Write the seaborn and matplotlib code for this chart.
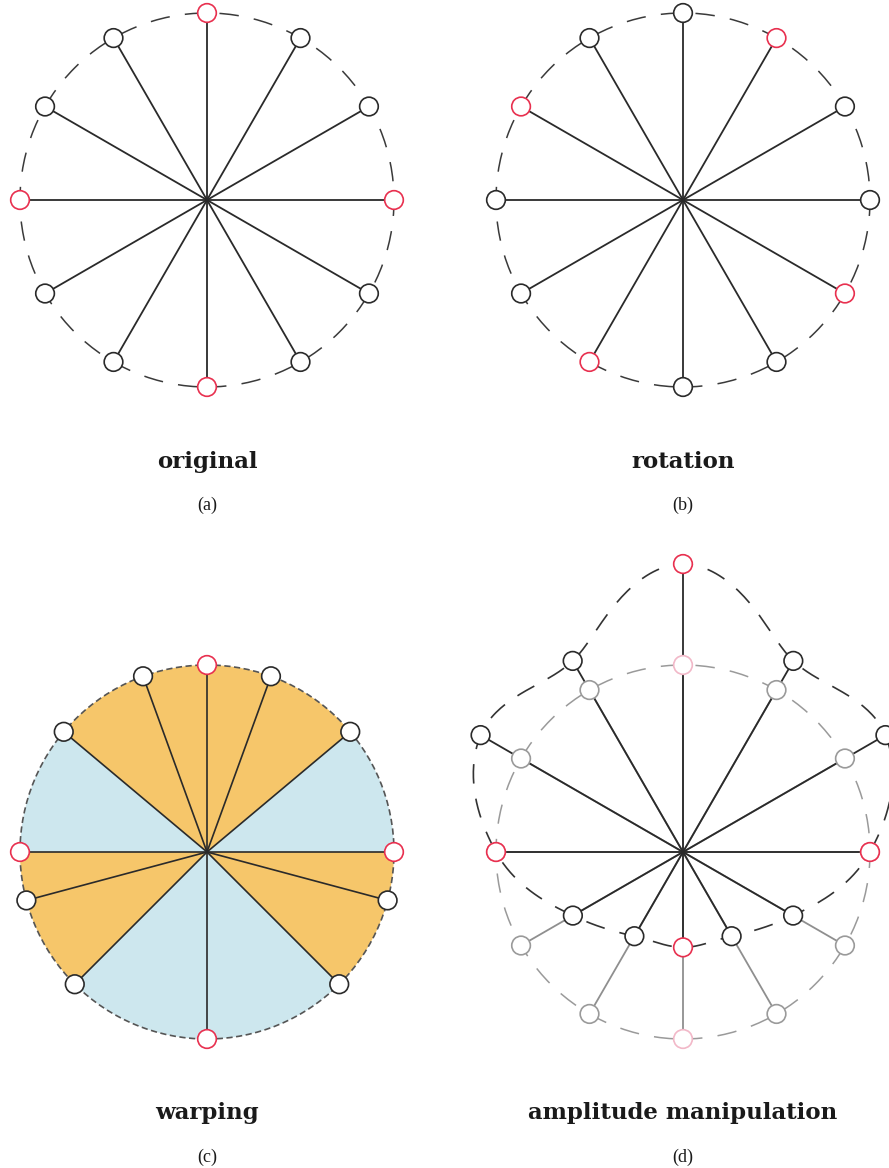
import numpy as np
import matplotlib
matplotlib.use("Agg")
import matplotlib.pyplot as plt
from matplotlib.patches import Wedge, Circle
import seaborn as sns

# angles (deg) of the 12 sample points, anchors drawn in red
base_angles = [0, 30, 60, 90, 120, 150, 180, 210, 240, 270, 300, 330]
anchor_angles = [0, 90, 180, 270]
rotation_deg = -30
warped_angles = [0, 40, 70, 90, 110, 140, 180, 195, 225, 270, 315, 345]
sector_edges = [0, 40, 140, 180, 225, 315, 360]
sector_kind = ["stretched", "squeezed", "stretched", "squeezed", "stretched", "squeezed"]
amplitude = [1.0, 1.25, 1.18, 1.54, 1.18, 1.25, 1.0, 0.68, 0.52, 0.51, 0.52, 0.68]

titles = ["original", "rotation", "warping", "amplitude manipulation"]
letters = ["(a)", "(b)", "(c)", "(d)"]

W, H = 889, 1168
R = 187
centers = [(207, 200), (683, 200), (207, 852), (683, 852)]  # image px, y down

RED = "#e8304f"
PINK = "#f2b8c8"
INK = "#2a2a2a"
GREY = "#9a9a9a"
sector_colors = {"stretched": "#cde7ee", "squeezed": "#f6c66a"}

sns.set_style("white")
plt.rcParams["lines.scale_dashes"] = False

fig = plt.figure(figsize=(W / 100, H / 100), dpi=100)
ax = fig.add_axes([0, 0, 1, 1])
ax.set_xlim(0, W)
ax.set_ylim(0, H)
ax.axis("off")


def centre(i):
    cx, cy = centers[i]
    return cx, H - cy


def polar(i, angles, radii):
    cx, cy = centre(i)
    th = np.deg2rad(np.asarray(angles, dtype=float))
    r = np.broadcast_to(np.asarray(radii, dtype=float), th.shape)
    return cx + r * np.cos(th), cy + r * np.sin(th)


def spokes(i, xs, ys, color, lw=1.3, z=2):
    cx, cy = centre(i)
    for x, y in zip(xs, ys):
        ax.plot([cx, x], [cy, y], color=color, lw=lw, zorder=z, solid_capstyle="butt")


def markers(xs, ys, edges, z=6):
    sns.scatterplot(x=xs, y=ys, ax=ax, s=180, color="white", edgecolor=edges,
                    linewidth=1.2, zorder=z, legend=False)


def dashed_circle(i, color, dashes, lw=1.1, z=1):
    cx, cy = centre(i)
    ax.add_patch(Circle((cx, cy), R, fill=False, ec=color, lw=lw,
                        ls=(0, dashes), zorder=z))


def edge_cols(angles, red, other):
    return [red if (a % 360) in anchor_angles else other for a in angles]


# (a) original
dashed_circle(0, "#3a3a3a", (14, 11))
xa, ya = polar(0, base_angles, R)
spokes(0, xa, ya, INK)
markers(xa, ya, edge_cols(base_angles, RED, INK))

# (b) rotation: anchors follow the rotation
rot = [a + rotation_deg for a in base_angles]
dashed_circle(1, "#3a3a3a", (14, 11))
xb, yb = polar(1, rot, R)
spokes(1, xb, yb, INK)
markers(xb, yb, [RED if a in anchor_angles else INK for a in base_angles])

# (c) warping: coloured sectors between warped points
cx, cy = centre(2)
for a0, a1, kind in zip(sector_edges[:-1], sector_edges[1:], sector_kind):
    ax.add_patch(Wedge((cx, cy), R, a0, a1, fc=sector_colors[kind], ec="none", zorder=0))
dashed_circle(2, "#555555", (4.5, 2.5), lw=1.2)
xc, yc = polar(2, warped_angles, R)
spokes(2, xc, yc, INK, lw=1.2)
markers(xc, yc, [RED if a in anchor_angles else INK for a in base_angles])

# (d) amplitude manipulation: original in grey, scaled in black
dashed_circle(3, GREY, (14, 11))
xg, yg = polar(3, base_angles, R)
spokes(3, xg, yg, "#8f8f8f", z=1.5)
markers(xg, yg, edge_cols(base_angles, PINK, GREY), z=4)

# smooth closed outline through the scaled points (periodic Catmull-Rom on r(theta))
amp = np.asarray(amplitude)
n = len(amp)
th_seg, r_seg = [], []
t = np.linspace(0, 1, 40, endpoint=False)
for k in range(n):
    p0, p1, p2, p3 = amp[(k - 1) % n], amp[k], amp[(k + 1) % n], amp[(k + 2) % n]
    m1, m2 = (p2 - p0) / 2, (p3 - p1) / 2
    h00 = 2 * t**3 - 3 * t**2 + 1
    h10 = t**3 - 2 * t**2 + t
    h01 = -2 * t**3 + 3 * t**2
    h11 = t**3 - t**2
    r_seg.append(h00 * p1 + h10 * m1 + h01 * p2 + h11 * m2)
    th_seg.append(base_angles[k] + 30 * t)
th_fine = np.append(np.concatenate(th_seg), 360)
r_fine = np.append(np.concatenate(r_seg), amp[0])
xo, yo = polar(3, th_fine, R * r_fine)
ax.plot(xo, yo, color="#333333", lw=1.2, dashes=(14, 11), zorder=3)

xd, yd = polar(3, base_angles, R * amp)
spokes(3, xd, yd, INK, z=3)
markers(xd, yd, edge_cols(base_angles, RED, INK), z=7)

# captions
for i, (t, l) in enumerate(zip(titles, letters)):
    px, py = centers[i]
    fig.text(px / W, 1 - 462 / H if i < 2 else 1 - 1113 / H, t, ha="center", va="center",
             fontsize=16.5, fontweight="bold", family="DejaVu Serif", color="#1a1a1a")
    fig.text(px / W, 1 - 505 / H if i < 2 else 1 - 1157 / H, l, ha="center", va="center",
             fontsize=13, family="Liberation Serif", color="#1a1a1a")

fig.savefig("out.png", dpi=100)
